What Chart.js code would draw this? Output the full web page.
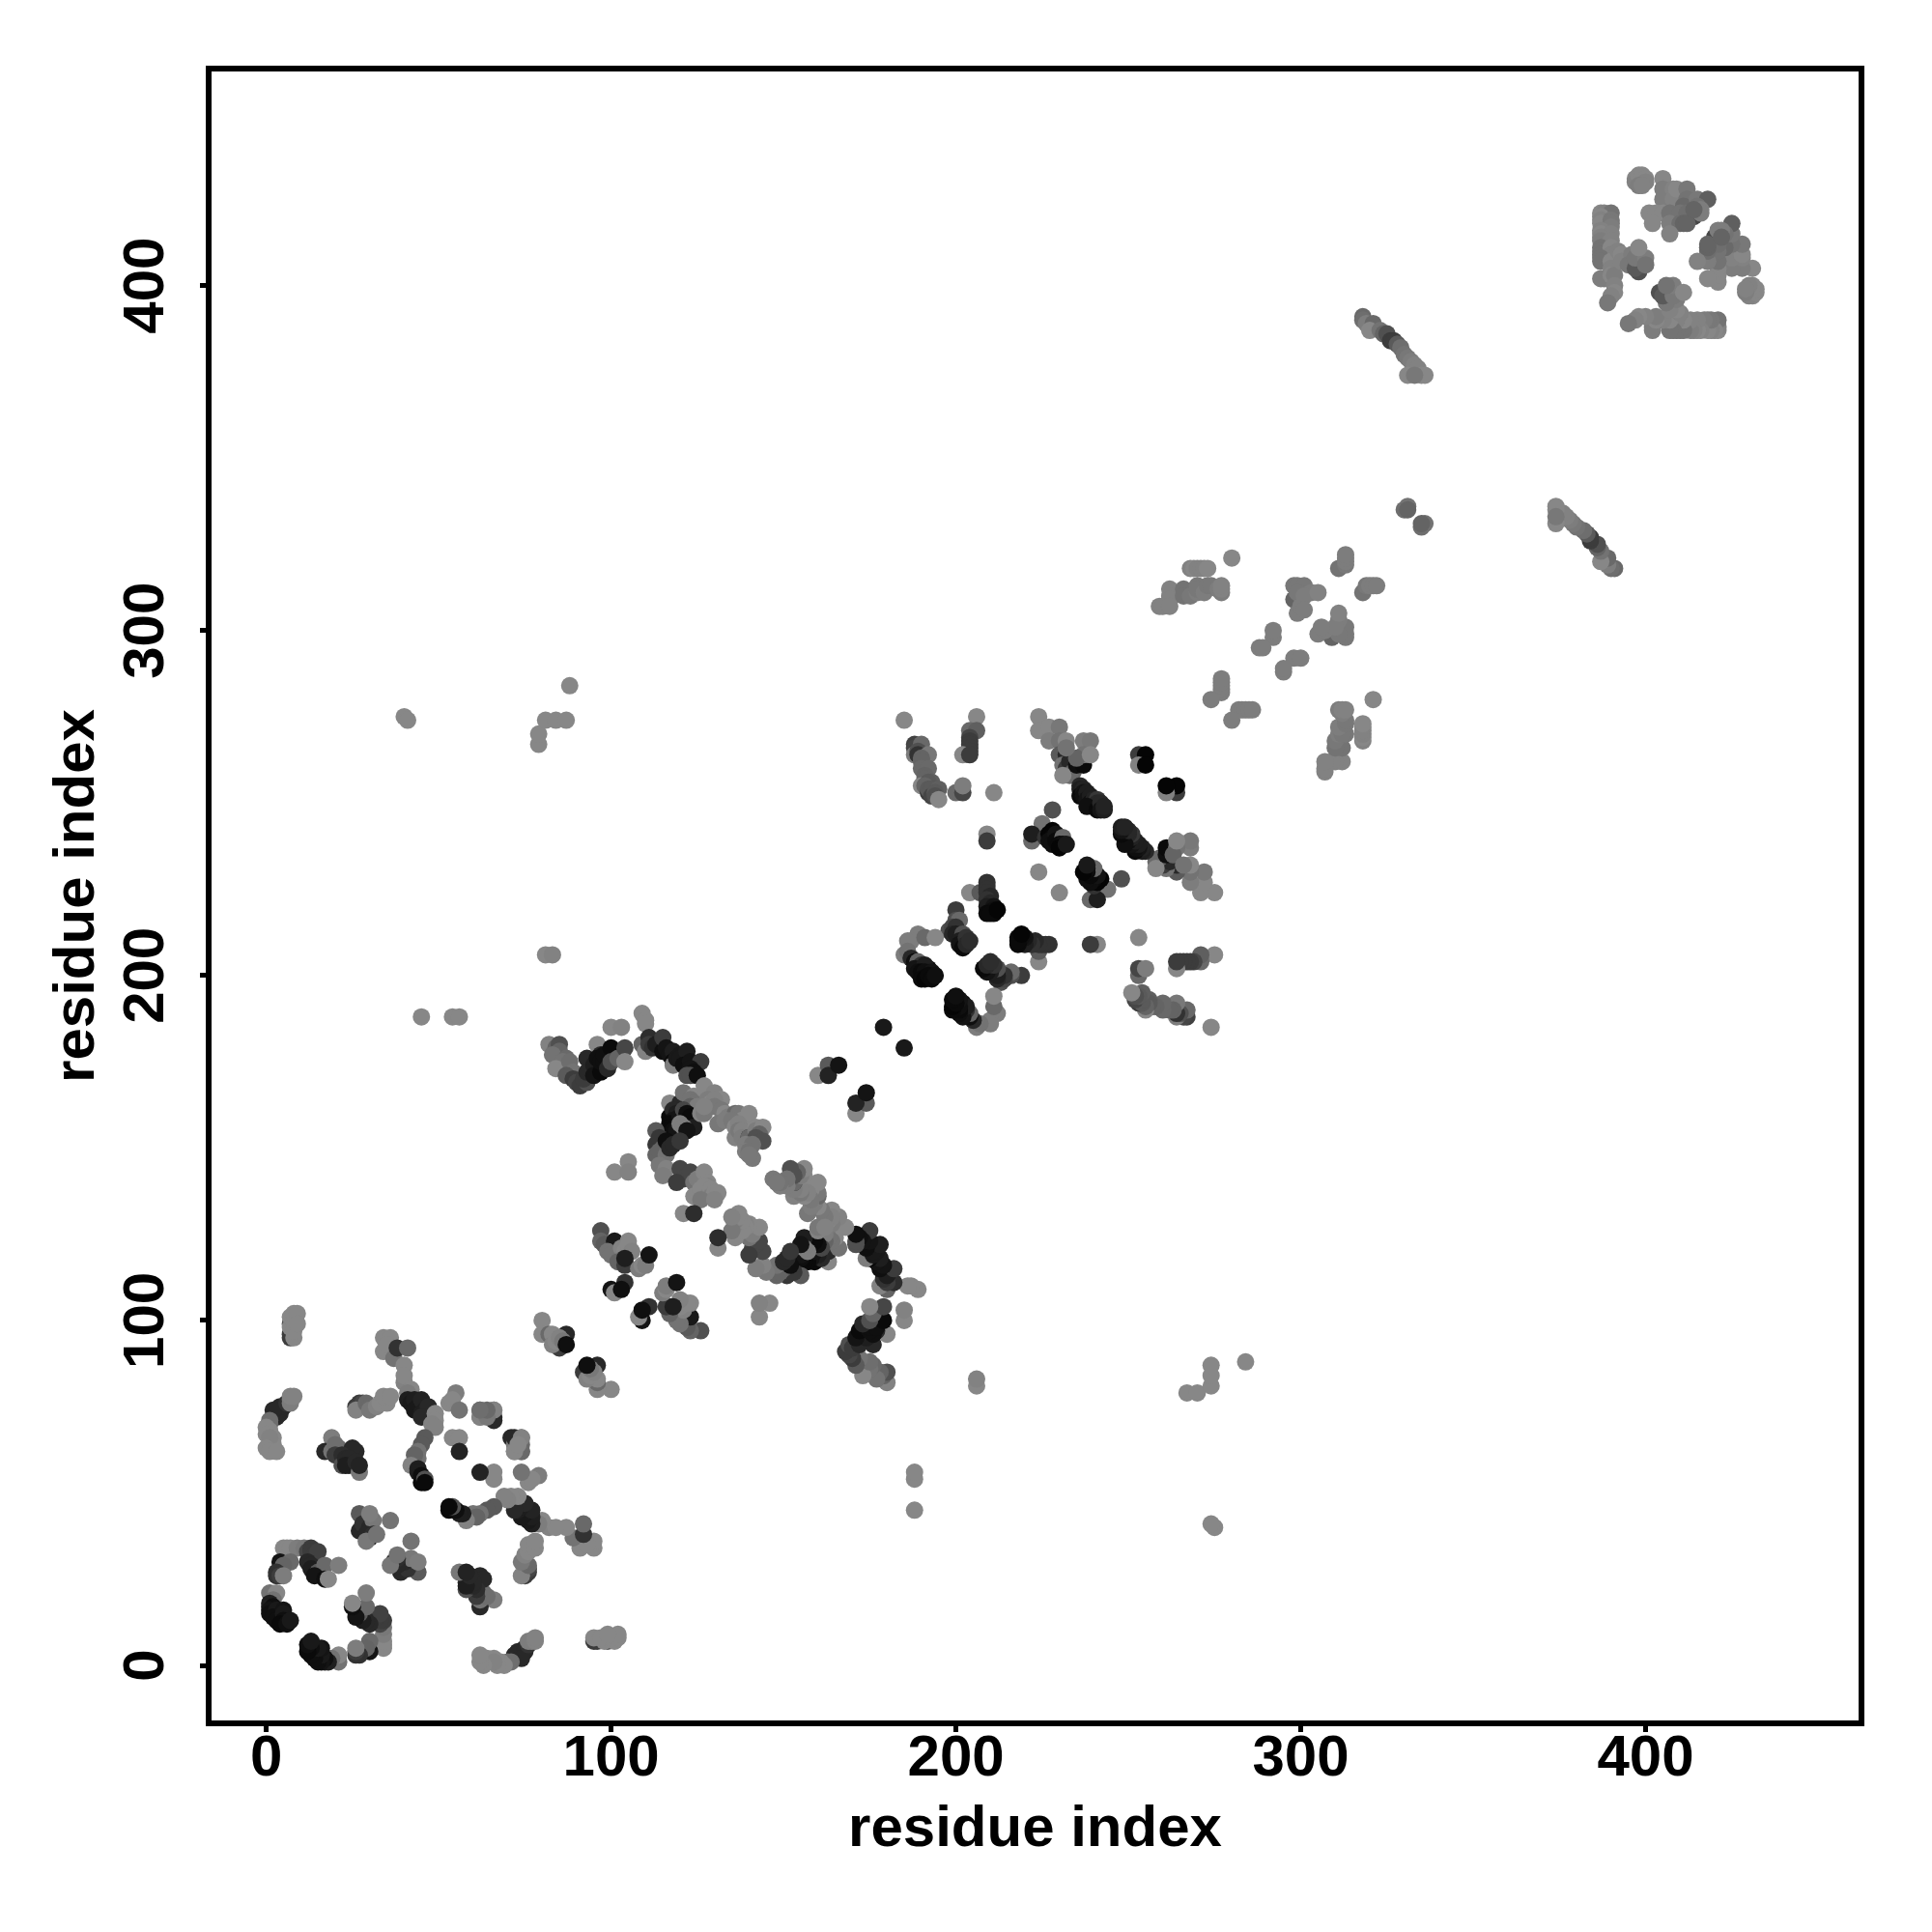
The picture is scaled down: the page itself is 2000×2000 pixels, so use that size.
<!DOCTYPE html>
<html lang="en">
<head>
    <meta charset="UTF-8">
    <title>Residue contact map</title>
    <script src="https://cdn.jsdelivr.net/npm/chart.js"></script>
    <style>
        body { margin: 0; background: #fff; }
        canvas { display: block; }
    </style>
</head>
<body>
    <canvas id="contactChart" width="2000" height="2000"></canvas>

    <script>
        // each contact is [residue i, residue j, grey level], i < j only
        const domainOne = [
            [7,95,60],[7,96,60],[7,99,80],[7,98,135],[7,101,135],[8,95,135],[8,97,135],[8,100,135],[8,102,135],[9,102,135],[9,99,135],
            [34,95,135],[36,95,135],[34,91,135],[35,93,135],[37,89,115],[38,92,50],[41,92,105],[40,87,135],[40,82,130],[40,84,135],[42,80,135],[41,79,125],
            [41,77,30],[42,76,25],[43,77,30],[44,75,25],[43,74,25],[45,77,35],[45,73,30],[46,74,30],[47,75,40],[45,72,40],[49,73,135],[49,71,135],[48,70,130],[49,69,130],
            [55,79,125],[53,76,135],[54,77,135],[56,74,115],[62,74,105],[62,72,135],[66,72,40],[66,74,130],[64,73,135],
            [80,100,135],[80,96,135],[82,96,105],[83,96,135],[87,96,40],[85,92,60],[83,93,130],[84,94,135],[85,95,130],[86,94,120],[87,93,15],
            [5,75,40],[4,73,40],[2,72,35],[3,72,40],[4,75,40],[2,74,40],[6,76,50],[1,70,105],[1,71,110],[1,68,135],[0,69,135],[0,67,135],[2,66,135],[2,64,135],[1,66,130],[0,63,135],[1,62,135],[3,62,135],[7,77,125],[7,76,125],[7,78,130],[8,78,130],
            [27,76,60],[26,75,60],[28,76,70],[26,74,130],[29,76,105],[30,75,105],[30,74,120],[32,75,130],[33,76,135],[35,76,135],[34,78,135],[36,78,135],
            [19,66,125],[17,62,40],[19,62,115],[21,63,105],[20,64,110],[20,61,60],[26,62,40],[25,63,40],[22,61,45],[22,58,80],[23,60,40],[24,60,40],[24,58,40],[23,58,30],[26,59,40],[27,56,120],[27,58,35],
            [46,66,90],[45,64,90],[44,62,115],[44,60,115],[43,61,100],[42,58,130],[44,57,30],[44,56,30],[45,53,10],[45,55,15],[46,54,80],[46,53,10],
            [54,66,135],[56,66,135],[56,62,35],[71,66,40],[74,66,130],[72,62,130],[72,64,120],[74,64,105],[74,62,110],
            [27,44,90],[28,43,90],[27,39,40],[28,41,50],[30,40,40],[31,42,120],[30,44,125],[36,42,115],[30,37,40],[29,38,40],[31,38,45],[29,36,120],[32,38,115],
            [5,34,135],[6,34,135],[7,34,135],[9,34,125],[11,34,120],[12,33,70],[13,34,60],[13,33,60],[14,32,60],[15,33,65],[4,30,20],[7,30,105],[5,29,100],[3,27,50],[3,26,50],[4,26,60],[5,26,125],
            [12,30,40],[13,29,40],[13,28,30],[15,27,90],[17,29,105],[21,29,125],[14,26,20],[17,25,15],[18,25,135],
            [1,21,115],[3,21,135],[2,19,115],[1,18,30],[1,17,30],[2,17,15],[1,16,20],[1,15,15],[3,15,20],[3,16,25],[2,14,15],[3,13,15],[5,16,20],[5,15,25],[5,13,15],[4,12,10],[6,12,15],[7,13,25]
        ];
        const domainTwo = [
            [82,180,130],[84,179,100],[85,180,80],[85,178,100],[83,177,115],[87,176,105],[86,175,115],[84,173,135],[88,173,135],[88,175,110],[89,172,115],[87,171,90],[89,170,60],[90,169,70],[91,168,60],[93,169,80],[92,170,60],
            [93,176,40],[93,172,40],[95,174,30],[95,171,20],[96,180,135],[97,177,40],[96,176,15],[97,172,10],[97,175,15],[98,175,15],[98,177,15],[99,173,40],[100,179,10],[100,175,80],[102,176,100],[104,179,70],[104,175,135],
            [100,185,135],[103,185,130],[109,189,135],[110,187,135],[110,186,135],[109,180,100],[110,178,130],[111,182,45],[111,180,60],[112,179,50],[113,180,30],
            [115,178,15],[115,182,60],[116,179,20],[117,177,20],[118,178,30],[118,175,10],[118,174,125],[119,176,25],[120,177,25],[120,176,25],[122,178,30],[121,174,15],[123,175,20],[126,175,60],[123,173,20],[124,172,15],[122,171,80],[123,171,80],[125,171,15],
            [117,163,135],[120,163,40],[121,166,115],[124,165,135],[123,164,115],[124,163,115],[123,162,100],[125,162,125],[127,168,135],[130,166,130],[128,164,125],[132,164,135],[129,163,135],[130,164,130],[130,162,120],
            [117,159,10],[118,161,40],[119,160,30],[118,157,15],[118,158,20],[117,157,10],[117,156,10],[120,159,20],[121,161,70],[122,160,15],[122,158,15],[123,157,15],[123,159,10],[124,156,30],[117,155,10],[118,155,15],[119,155,20],[120,157,125],[121,156,125],[122,155,20],[126,160,130],[127,160,120],[127,162,130],
            [132,161,120],[133,160,135],[134,159,125],[136,160,105],[137,160,120],[138,158,135],[139,158,135],[140,160,135],[131,157,120],[133,158,125],[135,158,120],[136,156,135],[137,157,130],[136,153,130],[137,155,120],[138,155,130],[138,153,125],[140,153,50],[140,153,105],[142,156,135],[142,155,125],[144,156,135],[143,154,100],[142,153,80],[144,152,80],[139,151,125],[141,151,115],[139,149,125],[140,149,115],[141,147,120],[140,148,120],
            [113,155,90],[113,151,55],[114,153,55],[115,150,90],[113,148,100],[114,149,100],[116,148,115],[116,152,15],[117,150,40],[118,151,40],[120,152,55],[114,145,120],[116,144,130],[115,142,125],
            [101,143,135],[105,146,135],[105,143,130],
            [120,144,70],[121,141,70],[122,142,70],[123,143,70],[119,140,60],[124,140,115],[125,141,125],[127,143,135],[128,140,135],[128,139,130],[127,139,135],[124,136,135],[126,138,135],[128,136,130],[129,138,135],[129,136,125],[130,137,135],[131,137,135],[126,135,120],[130,135,130],
            [121,131,135],[124,131,45],
            [97,126,80],[97,123,100],[98,122,90],[101,123,25],[99,120,115],[100,119,115],[105,123,135],[103,121,130],[104,120,135],[105,122,135],[106,120,130],[104,117,60],[102,117,100],[104,116,60],[104,118,30],[108,115,125],[109,116,135],[110,116,125],[111,119,20],
            [100,109,20],[104,111,50],[101,108,135],[103,109,15],
            [179,185,25],[160,171,135],[163,174,90],[163,171,35],[166,174,20]
        ];
        const domainThree = [
            [185,274,135],[206,275,135],[204,271,105],[206,271,95],[204,269,70],[204,268,60],[204,267,60],[204,266,60],[204,265,60],[202,264,135],[204,264,60],
            [188,267,65],[188,266,70],[190,267,105],[188,264,125],[189,265,80],[189,264,50],[192,264,120],[190,263,100],[190,262,100],[190,260,105],[192,260,105],[191,258,100],[191,257,100],[190,255,135],[193,256,95],[192,256,90],[191,255,100],[192,253,60],[192,254,90],[193,254,90],[195,254,95],[193,252,70],[194,253,90],[194,252,80],[195,251,135],
            [200,253,105],[202,253,70],[202,255,125],[211,253,135],
            [224,275,135],[224,271,135],[227,272,135],[227,268,125],[230,272,120],[230,268,115],[232,268,135],[230,264,90],[232,264,40],[231,261,115],[232,260,60],[233,262,40],[234,259,100],[233,258,105],[231,258,135],
            [235,261,15],[237,261,10],[237,268,125],[239,268,120],[237,264,115],[235,263,100],[232,266,115],[239,264,135],
            [236,255,40],[236,254,30],[237,254,35],[236,252,10],[237,253,20],[237,252,15],[238,253,30],[238,251,20],[239,252,30],[239,250,15],[240,251,35],[240,249,15],[241,251,55],[241,250,40],[238,249,15],[241,248,10],[242,250,40],[242,248,20],[243,248,30],[243,249,35],
            [253,264,60],[255,264,5],[253,261,130],[255,261,5],
            [228,248,80],[225,244,115],[222,239,105],[222,241,30],[226,240,50],[228,242,5],[227,241,5],[228,240,10],[227,239,15],[228,238,15],[229,241,20],[229,239,10],[231,240,105],[230,238,10],[231,238,15],[230,237,5],[232,238,25],
            [224,230,135],[209,241,135],[209,239,60],
            [209,227,50],[204,224,135],[207,224,90],[209,226,50],[209,225,50],[209,224,50],[210,223,40],[209,222,50],[210,221,40],[209,220,30],[211,220,20],[211,219,15],[209,218,10],[211,218,10],[210,218,10],[212,219,5],
            [200,219,60],[200,216,80],[201,216,105],[198,213,80],[199,214,70],[200,214,50],[199,212,40],[200,212,30],[202,212,80],[201,210,30],[201,209,20],[202,208,10],[203,211,50],[203,209,40],[204,210,45],
            [189,212,125],[187,210,125],[186,210,125],[191,211,105],[194,211,135],[185,206,125],[186,207,115],[187,205,40],[188,204,15],[189,204,100],[190,203,50],[188,202,20],[192,202,10],[191,203,30],[189,201,15],[190,201,10],[191,201,15],[190,199,10],[191,199,5],[193,201,20],[192,200,10],[193,199,10],[194,200,15]
        ];
        const domainFour = [
            [280,321,135],[268,318,130],[269,318,135],[270,318,130],[271,318,130],[272,318,130],[273,318,135],[262,312,130],[262,310,130],[262,309,130],[259,307,130],[260,307,130],[262,307,130],[266,312,115],[266,310,115],[268,310,120],[270,311,125],[270,313,120],[270,312,120],[272,311,125],[273,313,120],[274,313,120],[276,312,125],[277,311,125],[277,312,130],[277,313,130],
            [311,318,115],[313,319,120],[313,320,125],[313,321,125],[313,322,125],
            [298,313,120],[299,313,120],[301,313,120],[298,309,100],[299,311,120],[303,311,125],[299,305,125],[300,307,125],[301,310,125],[301,306,125],[305,311,130],
            [292,298,125],[292,300,125],[288,295,125],[289,295,125],[277,282,125],[277,283,125],[277,284,125],[277,285,125],[277,286,125],[274,280,125],
            [330,335,110],[331,336,115],[331,335,100]
        ];
        const domainFive = [
            [318,391,105],[318,390,110],[319,389,125],[321,389,105],[320,387,135],[323,387,115],[324,386,100],[325,386,80],[326,384,60],[327,384,60],[328,383,90],[329,382,110],[330,380,115],[331,379,120],[332,378,125],[333,377,130],[334,376,130],[335,374,135],[336,374,135],[331,374,135],[333,374,120],
            [397,431,135],[397,430,130],[398,432,135],[399,432,135],[400,431,135],[400,430,130],[398,429,125],[399,429,130],[405,431,135],[405,428,125],[405,425,125],[408,428,130],[408,425,130],[409,428,135],[412,428,120],[412,425,115],[411,423,105],[415,425,120],[418,425,95],[415,423,115],[416,422,125],[414,420,70],[416,421,125],
            [401,421,135],[403,421,135],[405,421,135],[407,421,115],[402,418,135],[410,421,115],[412,421,110],[407,418,125],[410,418,110],[411,418,100],[412,418,100],[407,415,130],[414,422,100],
            [387,421,135],[388,421,130],[390,421,115],[387,420,135],[387,419,130],[387,418,135],[390,419,120],[390,418,120],[390,417,125],[387,416,130],[387,415,135],[390,415,130],[387,414,130],[387,413,125],[390,413,130],[387,411,115],[387,410,115],[387,409,115],[390,411,135],[390,409,130],[387,408,115],[387,407,115],[390,407,135],[390,405,130],[388,402,125],[387,402,125],[390,403,135],[391,403,125],
            [391,400,130],[391,398,135],[390,397,130],[389,395,120],[392,410,130],[393,409,135],[393,407,130],[396,409,125],[395,406,120],[398,404,80],[397,405,90],[397,408,120],[400,408,125],[400,406,115],[398,411,135]
        ];
        const longRange = [
            [40,275,135],[41,274,135],[79,267,135],[79,270,135],[81,274,135],[84,274,135],[87,274,135],[88,284,135],
            [81,206,135],[83,206,130],[45,188,135],[54,188,135],[56,188,135]
        ];
        const domains = [domainOne, domainTwo, domainThree, domainFour, domainFive, longRange];

        const tickValues = [0, 100, 200, 300, 400];
        const axisLabel = 'residue index';

        // the map is symmetric so every contact goes in twice
        const datasets = domains.map(contacts => {
            const points = [];
            const colors = [];
            contacts.forEach(([i, j, grey]) => {
                points.push({ x: i, y: j });
                colors.push(`rgb(${grey},${grey},${grey})`);
            });
            contacts.forEach(([i, j, grey]) => {
                points.push({ x: j, y: i });
                colors.push(`rgb(${grey},${grey},${grey})`);
            });
            return { data: points, pointBackgroundColor: colors, pointBorderWidth: 0, pointRadius: 9 };
        });

        const font = { family: '"Liberation Sans"', weight: 'bold', size: 60 };

        function fixTicks(scale) {
            scale.ticks = tickValues.map(value => ({ value }));
        }

        // outline on all four sides of the plot
        const framePlugin = {
            id: 'frame',
            afterDraw(chart) {
                const { ctx, chartArea: a } = chart;
                ctx.save();
                ctx.strokeStyle = '#000';
                ctx.lineWidth = 6;
                ctx.strokeRect(a.left, a.top, a.right - a.left, a.bottom - a.top);
                ctx.restore();
            }
        };

        new Chart(document.getElementById('contactChart'), {
            type: 'scatter',
            data: { datasets },
            plugins: [framePlugin],
            options: {
                responsive: false,
                animation: false,
                layout: { padding: { top: 71, right: 73, left: 0, bottom: 0 } },
                plugins: { legend: { display: false }, tooltip: { enabled: false } },
                scales: {
                    x: {
                        min: -16.7,
                        max: 462.6,
                        afterBuildTicks: fixTicks,
                        afterFit(scale) { scale.height = 216; },
                        border: { display: false },
                        grid: { drawOnChartArea: false, tickLength: 9, tickWidth: 5, tickColor: '#000' },
                        ticks: { color: '#000', font, maxRotation: 0, padding: -8 },
                        title: { display: true, text: axisLabel, color: '#000', font, padding: { top: 0, bottom: 70 } }
                    },
                    y: {
                        min: -16.8,
                        max: 462.9,
                        afterBuildTicks: fixTicks,
                        afterFit(scale) { scale.width = 216; },
                        border: { display: false },
                        grid: { drawOnChartArea: false, tickLength: 9, tickWidth: 5, tickColor: '#000' },
                        ticks: { color: '#000', font, minRotation: 90, maxRotation: 90, crossAlign: 'center', padding: 4 },
                        title: { display: true, text: axisLabel, color: '#000', font, padding: { top: 44, bottom: 0 } }
                    }
                }
            }
        });
    </script>
</body>
</html>
